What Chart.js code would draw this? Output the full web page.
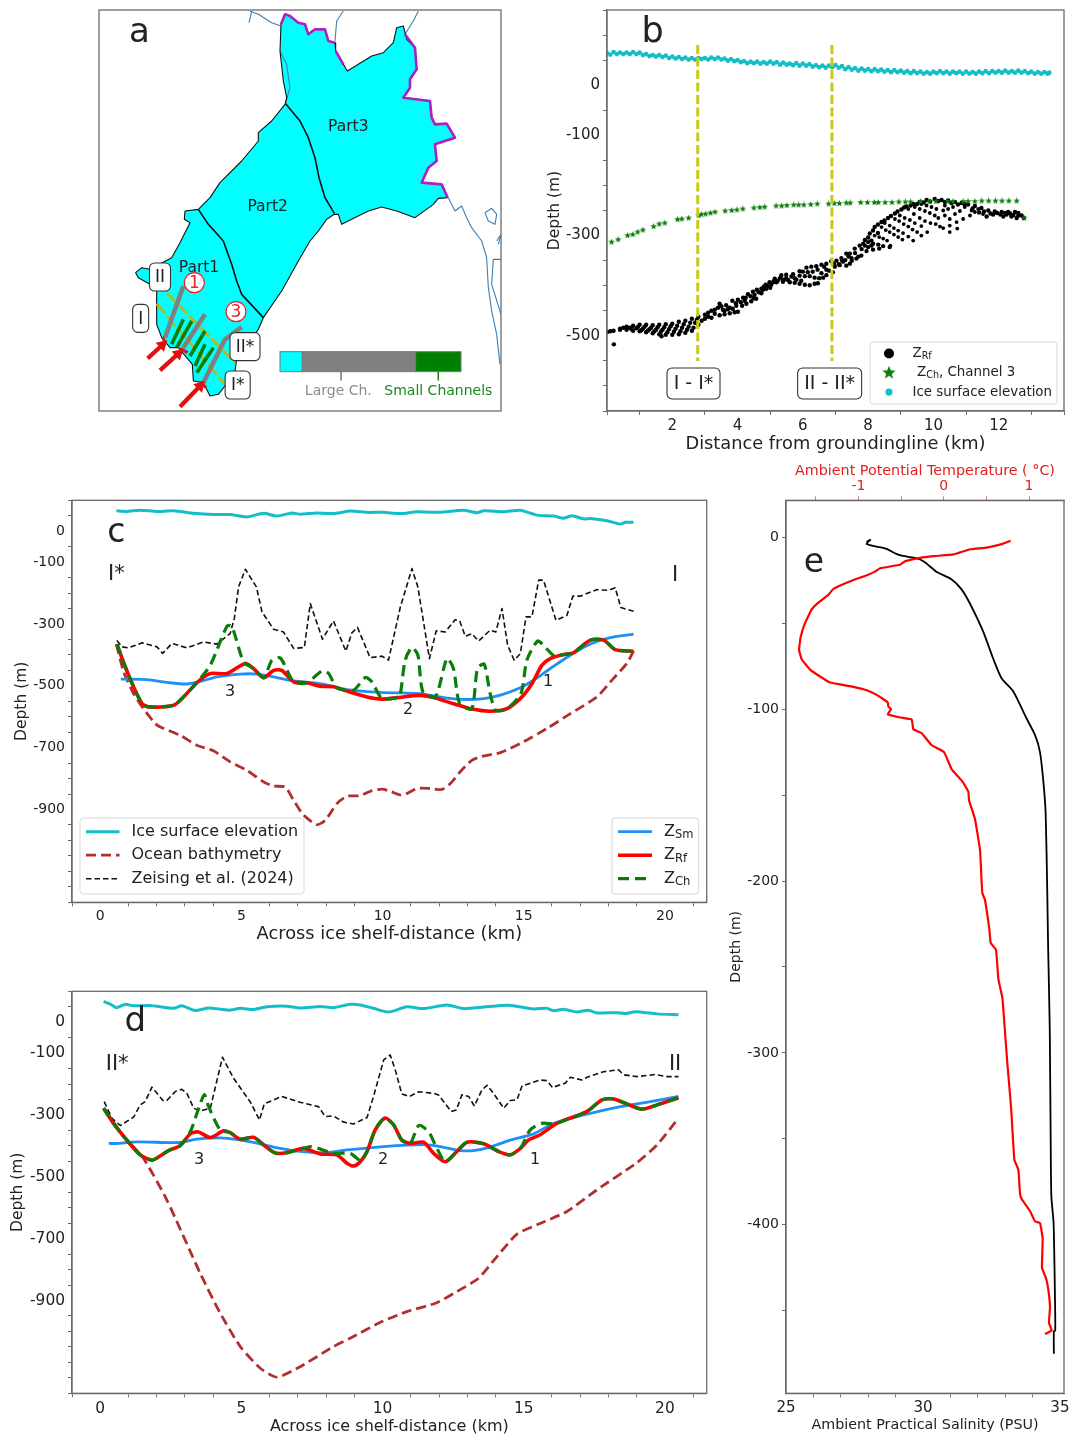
<!DOCTYPE html>
<html>
<head>
<meta charset="utf-8">
<title>Ice shelf channels</title>
<script src="https://cdn.jsdelivr.net/npm/chart.js@4/dist/chart.umd.js"></script>
<style>
  html, body { margin: 0; padding: 0; background: #fff; }
  #page { position: relative; width: 1071px; height: 1436px; overflow: hidden; }
  canvas { position: absolute; filter: blur(0.4px); }
</style>
</head>
<body>
<div id="page">
  <canvas id="panel-a" width="420" height="420" style="left:90px;top:0"></canvas>
  <canvas id="panel-b" width="531" height="460" style="left:540px;top:0"></canvas>
  <canvas id="panel-c" width="715" height="460" style="left:0;top:490px"></canvas>
  <canvas id="panel-d" width="715" height="456" style="left:0;top:980px"></canvas>
  <canvas id="panel-e" width="351" height="976" style="left:720px;top:460px"></canvas>
</div>
<script>
// ---- panel a, map outlines (map units)
const shelfOutline = [[558,70],[570,40],[585,45],[610,65],[630,70],[640,100],[660,85],[690,85],[700,120],[720,125],[722,150],[745,190],[757,210],[790,190],[830,165],[865,155],[895,125],[905,80],[925,75],[935,115],[960,140],[965,205],[945,235],[945,260],[925,290],[1005,300],[1010,350],[1020,370],[1055,368],[1080,410],[1020,430],[1025,480],[1000,500],[980,545],[1040,550],[1058,590],[1030,592],[1015,610],[960,650],[905,630],[860,618],[820,630],[770,655],[740,670],[730,640],[718,640],[695,655],[670,690],[645,720],[610,780],[560,870],[505,950],[490,985],[465,1020],[425,1075],[420,1110],[390,1155],[370,1180],[345,1185],[325,1145],[295,1140],[292,1090],[250,1040],[225,1040],[200,1010],[185,970],[185,855],[165,850],[130,830],[122,815],[140,800],[165,805],[230,770],[255,725],[285,665],[268,655],[270,630],[310,625],[345,590],[375,545],[440,480],[490,420],[490,395],[530,360],[570,310],[575,290],[565,240],[555,150],[558,70]];
const dividerPart23 = [[572,308],[615,360],[640,410],[660,470],[672,530],[690,590],[718,637]];
const dividerPart12 = [[310,625],[340,670],[385,720],[410,790],[425,840],[440,880],[505,950]];
const magentaNorth = [[558,70],[570,40],[585,45],[610,65],[630,70],[640,100],[660,85],[690,85],[700,120],[720,125]];
const magentaMid = [[722,150],[745,190]];
const magentaEast = [[930,100],[960,140],[965,205],[945,235],[945,260],[925,290],[1005,300],[1010,350],[1020,370],[1055,368],[1080,410],[1020,430],[1025,480],[1000,500],[980,545],[1040,550],[1058,590]];
const coastLines = [
  [[462,65],[470,32]],
  [[465,30],[490,40],[530,65],[558,75]],
  [[720,120],[725,60],[745,30]],
  [[930,100],[955,60],[970,30]],
  [[555,150],[575,190],[585,260],[572,305]],
  [[1060,590],[1080,630],[1100,615],[1115,650],[1130,680],[1160,720],[1175,770],[1180,860],[1190,930],[1205,1000],[1215,1090]],
  [[1218,775],[1195,775],[1190,850],[1218,940]],
  [[1170,635],[1190,622],[1205,640],[1200,670],[1180,660],[1170,635]],
  [[1205,720],[1218,700],[1210,730]]
];
const yellowTransects = [[[215,875],[420,1085]], [[185,908],[390,1150]]];
const largeChannels = [[[265,855],[210,1010]], [[330,940],[265,1040]], [[440,978],[390,1015],[325,1145]]];
const smallChannels = [[[265,955],[230,1030]], [[290,960],[245,1040]], [[330,990],[285,1065]], [[330,1030],[300,1095]], [[355,1040],[305,1115]]];
const redTips = [[[203,1008],[212,1030]], [[255,1042],[278,1055]], [[317,1142],[333,1160]]];
const redArrows = [[[158,1072],[202,1032]], [[195,1108],[250,1058]], [[255,1217],[315,1155]]];
const keyBar = [[555,622,'#00ffff'],[622,962,'#808080'],[962,1098,'#008000']];
const keyTickLarge = [[738,1112],[738,1138]];
const keyTickSmall = [[1030,1112],[1030,1138]];

// ---- panel b
const bIce = [[0,64],[.2,66],[.4,65],[.6,65],[.8,66],[1,65],[1.2,62],[1.4,60],[1.6,60],[1.8,59],[2,57],[2.2,56],[2.4,55],[2.6,54],[2.8,54],[3,54],[3.2,55],[3.4,55],[3.6,53],[3.8,52],[4,50],[4.2,48],[4.4,47],[4.6,47],[4.8,46],[5,47],[5.2,46],[5.4,45],[5.6,43],[5.8,44],[6,43],[6.2,42],[6.4,40],[6.6,39],[6.8,39],[7,40],[7.2,38],[7.4,36],[7.6,34],[7.8,33],[8,32],[8.2,32],[8.4,31],[8.6,30],[8.8,30],[9,29],[9.2,28],[9.4,28],[9.6,27],[9.8,26],[10,27],[10.2,28],[10.4,27],[10.6,27],[10.8,27],[11,27],[11.2,26],[11.4,27],[11.6,28],[11.8,28],[12,28],[12.2,29],[12.4,28],[12.6,29],[12.8,28],[13,27],[13.2,26],[13.4,26],[13.55,25]];
const bIceLower = [[.1,61],[.3,62],[.5,62],[.7,62],[.9,62],[1.1,60],[1.3,58],[1.5,57],[1.7,56],[1.9,54],[2.1,53],[2.3,52],[2.5,51],[2.7,51],[2.9,52],[3.1,51],[3.3,52],[3.5,51],[3.7,49],[3.9,48],[4.1,46],[4.3,44],[4.5,44],[4.7,43],[4.9,43],[5.1,43],[5.3,41],[5.5,41],[5.7,40],[5.9,39],[6.1,39],[6.3,37],[6.5,36],[6.7,35],[6.9,36],[7.1,35],[7.3,32],[7.5,31],[7.7,29],[7.9,29],[8.1,28],[8.3,28],[8.5,27],[8.7,26],[8.9,26],[9.1,25],[9.3,24],[9.5,24],[9.7,23],[9.9,23],[10.1,24],[10.3,24],[10.5,23],[10.7,24],[10.9,23],[11.1,23],[11.3,23],[11.5,24],[11.7,24],[11.9,25],[12.1,25],[12.3,25],[12.5,25],[12.7,25],[12.9,24],[13.1,23],[13.3,23],[13.5,23]];
const bChannel3 = [[.14,-313],[.34,-308],[.63,-300],[.79,-298],[.94,-293],[1.1,-289],[1.43,-282],[1.6,-277],[1.77,-275],[2.16,-268],[2.29,-267],[2.5,-265],[2.81,-260],[2.89,-258],[3.02,-257],[3.17,-255],[3.31,-253],[3.62,-251],[3.82,-250],[3.98,-249],[4.16,-247],[4.5,-245],[4.68,-244],[4.83,-243],[5.18,-241],[5.35,-241],[5.51,-240],[5.72,-239],[5.87,-239],[6.03,-239],[6.24,-238],[6.44,-237],[6.79,-237],[6.96,-236],[7.12,-236],[7.33,-235],[7.45,-235],[7.77,-234],[7.98,-234],[8.19,-234],[8.31,-234],[8.52,-234],[8.73,-234],[8.94,-233],[9.14,-233],[9.3,-233],[9.61,-232],[9.87,-232],[10.08,-232],[10.44,-232],[10.6,-232],[10.91,-232],[11.06,-232],[11.27,-232],[11.48,-231],[11.69,-231],[11.9,-231],[12.1,-231],[12.31,-231],[12.55,-231],[12.78,-265]];
const bRfUpper = [[0,-493],[.1,-491],[.21,-517],[.2,-490],[.4,-486],[.6,-482],[.8,-480],[1,-478],[1.2,-478],[1.4,-479],[1.6,-478],[1.8,-477],[2,-476],[2.2,-472],[2.4,-470],[2.6,-466],[2.8,-462],[3,-458],[3.2,-450],[3.45,-436],[3.65,-439],[3.84,-430],[4.01,-428],[4.17,-424],[4.32,-417],[4.47,-412],[4.59,-408],[4.73,-406],[4.86,-398],[4.98,-393],[5.14,-386],[5.34,-379],[5.49,-378],[5.7,-377],[5.9,-371],[6.11,-364],[6.26,-362],[6.41,-361],[6.57,-358],[6.72,-356],[6.87,-351],[7.03,-350],[7.18,-345],[7.33,-336],[7.44,-336],[7.59,-326],[7.74,-320],[7.9,-309],[8.05,-296],[8.2,-283],[8.41,-273],[8.61,-265],[8.82,-256],[9.02,-248],[9.17,-242],[9.38,-237],[9.58,-233],[9.79,-229],[10.04,-227],[10.25,-229],[10.45,-230],[10.66,-233],[10.86,-235],[11.06,-238],[11.27,-241],[11.47,-245],[11.68,-250],[11.88,-252],[12.09,-253],[12.29,-253],[12.5,-253],[12.6,-255],[12.7,-260],[12.77,-265]];
const bRfMid = [[.7,-484],[.9,-485],[1.1,-486],[1.3,-487],[1.5,-488],[1.7,-488],[1.9,-487],[2.1,-486],[2.3,-484],[2.5,-482],[2.7,-474],[3.1,-462],[3.3,-456],[3.55,-448],[3.76,-444],[3.96,-440],[4.22,-430],[4.52,-418],[4.78,-408],[5.09,-393],[5.29,-386],[5.49,-385],[5.75,-385],[5.9,-380],[6.06,-381],[6.21,-381],[6.36,-384],[6.57,-375],[6.72,-368],[6.98,-362],[7.23,-352],[7.49,-345]];
const bRfLower = [[.4,-488],[.6,-488],[.8,-490],[1,-491],[1.2,-493],[1.4,-495],[1.6,-497],[1.67,-501],[1.8,-498],[2,-498],[2.2,-497],[2.4,-494],[2.6,-490],[2.8,-478],[3.2,-464],[3.45,-459],[3.6,-457],[3.76,-455],[3.91,-453],[4.01,-452],[4.14,-440],[4.27,-436],[4.42,-431],[4.57,-426],[4.73,-415],[4.88,-406],[5.03,-398],[5.19,-393],[5.39,-392],[5.6,-393],[5.75,-394],[5.9,-396],[6.06,-398],[6.21,-399],[6.36,-396],[6.46,-395],[6.62,-384],[6.72,-379],[6.92,-373],[7.13,-359],[7.33,-360],[7.44,-356],[7.64,-346],[7.79,-340],[7.95,-331],[8.15,-328],[8.34,-326],[8,-323],[7.85,-316],[8.1,-320],[8,-313],[8.15,-316],[8.31,-318],[8.46,-321],[8.66,-323],[11.63,-262],[11.83,-258],[12.14,-262],[12.24,-258],[12.39,-262],[12.55,-265]];
const bRfFill = [[.5,-484],[.75,-487],[.95,-482],[1.05,-489],[1.15,-482],[1.25,-490],[1.35,-484],[1.45,-491],[1.55,-483],[1.65,-492],[1.75,-483],[1.85,-493],[1.95,-481],[2.05,-492],[2.15,-480],[2.25,-491],[2.35,-477],[2.45,-488],[2.55,-474],[2.65,-484],[2.75,-468],[2.9,-470],[3,-466],[3.1,-454],[3.3,-448],[3.4,-444],[3.5,-441],[3.6,-450],[3.7,-447],[3.85,-446],[3.95,-435],[4.1,-433],[4.25,-424],[4.4,-421],[4.5,-425],[4.65,-413],[4.8,-402],[4.9,-400],[5,-404],[5.12,-390],[5.22,-391],[5.32,-384],[5.42,-388],[5.55,-389],[5.65,-382],[5.8,-388],[5.95,-390],[6,-372],[6.15,-373],[6.3,-372],[6.45,-368],[6.5,-385],[6.65,-362],[6.8,-370],[6.95,-356],[7.1,-357],[7.2,-350],[7.3,-349],[7.4,-342],[7.5,-350],[7.6,-335],[7.7,-342],[7.8,-327],[7.9,-320],[8,-304],[8.1,-310],[8.15,-290],[8.3,-295],[8.3,-278],[8.5,-270],[8.7,-261],[8.9,-252],[9.1,-244],[9.3,-240],[9.5,-237],[9.7,-234],[9.9,-232],[10.15,-231],[10.35,-233],[10.55,-235],[10.75,-238],[10.95,-237],[11.2,-246],[11.4,-254],[11.55,-252],[11.75,-256],[11.95,-255],[12.05,-258],[12.2,-255],[12.35,-256],[12.45,-259],[12.6,-260]];
const bRfNet = [[8.2,-300],[8.34,-303],[8.46,-306],[8.58,-310],[8.68,-320],[8.41,-283],[8.54,-289],[8.66,-293],[8.79,-298],[8.92,-303],[9.05,-308],[8.51,-275],[8.66,-280],[8.79,-285],[8.92,-290],[9.07,-295],[9.23,-302],[9.38,-310],[8.82,-267],[8.95,-271],[9.09,-277],[9.23,-282],[9.36,-288],[9.5,-293],[9.63,-300],[8.97,-260],[9.12,-265],[9.28,-269],[9.43,-275],[9.63,-281],[9.81,-293],[9.23,-247],[9.4,-257],[9.58,-265],[9.74,-271],[9.91,-275],[10.07,-277],[10.2,-282],[9.43,-243],[9.58,-247],[9.74,-251],[9.89,-255],[10.04,-260],[10.15,-265],[9.63,-237],[9.79,-240],[9.94,-243],[10.09,-247],[10.35,-240],[10.3,-250],[10.45,-247],[10.6,-243],[10.66,-257],[10.5,-267],[10.35,-260],[10.81,-251],[10.3,-285],[10.5,-280],[10.71,-273],[10.91,-267],[11.12,-260],[11.27,-253],[10.5,-293],[10.73,-286],[10.96,-243],[11.17,-250],[11.37,-247],[11.52,-257]];
const bTransectI = [[2.78,80],[2.78,-550]];
const bTransectII = [[6.89,80],[6.89,-550]];

// ---- panel c, transect I - I*
const cIce = [[.57,66],[.94,64],[1.42,68],[2,64],[2.6,66],[3.31,58],[4.01,54],[4.6,54],[5.19,46],[5.79,58],[6.26,49],[6.79,59],[7.08,55],[7.67,59],[8.26,57],[8.85,65],[9.45,61],[10.04,61],[10.63,57],[11.22,63],[11.92,61],[12.87,68],[13.34,60],[13.58,66],[14.29,63],[14.88,68],[15.47,52],[16.06,49],[16.41,42],[16.71,50],[17.12,40],[17.36,41],[17.95,34],[18.42,23],[18.6,29],[18.89,29]];
const cZeising = [[.59,-353],[.77,-374],[1,-377],[1.48,-361],[2.01,-374],[2.21,-395],[2.54,-363],[3.07,-377],[3.66,-358],[4.13,-365],[4.6,-331],[4.75,-282],[4.9,-180],[5.14,-123],[5.53,-180],[5.73,-261],[6.14,-317],[6.49,-326],[6.85,-379],[7.23,-376],[7.44,-234],[7.87,-349],[8.26,-290],[8.7,-388],[8.91,-329],[9.11,-311],[9.56,-409],[9.98,-404],[10.21,-417],[10.63,-245],[11.04,-121],[11.25,-180],[11.66,-412],[11.9,-322],[12.22,-326],[12.57,-286],[12.73,-290],[12.93,-340],[13.16,-331],[13.4,-355],[13.81,-320],[14.01,-326],[14.23,-250],[14.43,-369],[14.66,-417],[14.88,-396],[15.08,-277],[15.29,-277],[15.53,-158],[15.7,-158],[16.14,-288],[16.53,-272],[16.74,-210],[17,-210],[17.59,-189],[18,-191],[18.24,-183],[18.44,-247],[18.89,-259]];
const cBathy = [[.57,-365],[.83,-455],[1.18,-525],[1.53,-574],[1.95,-622],[2.13,-633],[2.83,-660],[3.42,-692],[4.01,-710],[4.6,-746],[5.19,-773],[5.79,-811],[6.14,-824],[6.55,-827],[6.85,-870],[7.2,-918],[7.67,-949],[7.97,-935],[8.38,-881],[8.74,-857],[9.21,-855],[9.56,-841],[9.98,-834],[10.27,-841],[10.63,-853],[10.8,-851],[11.22,-832],[11.69,-832],[12.1,-835],[12.4,-816],[12.75,-778],[13.16,-741],[13.52,-728],[14.17,-716],[14.99,-681],[15.82,-638],[16.65,-590],[17.59,-536],[18.18,-476],[18.65,-428],[18.89,-387]];
const cSm = [[.73,-478],[1.65,-480],[2.36,-489],[3.07,-494],[3.54,-486],[4.13,-471],[4.96,-462],[5.55,-462],[6.14,-471],[6.85,-484],[7.79,-493],[8.74,-512],[9.92,-521],[10.63,-523],[11.33,-525],[12.16,-538],[12.87,-544],[13.58,-541],[14.17,-530],[14.88,-506],[15.35,-482],[15.94,-444],[16.65,-401],[17.36,-365],[18.06,-344],[18.89,-333]];
const cRf = [[.59,-365],[.89,-439],[1.18,-503],[1.48,-557],[1.71,-568],[2.6,-563],[2.95,-536],[3.42,-490],[3.9,-460],[4.49,-460],[5.14,-428],[5.43,-444],[5.79,-474],[6.14,-450],[6.43,-450],[6.85,-487],[7.32,-490],[7.79,-501],[8.26,-503],[8.74,-517],[9.45,-536],[9.98,-543],[10.51,-538],[11.33,-531],[11.81,-538],[12.51,-558],[13.22,-576],[13.81,-582],[14.4,-574],[14.88,-541],[15.29,-493],[15.64,-434],[15.94,-412],[16.41,-399],[16.76,-393],[17.36,-352],[17.83,-352],[18.24,-383],[18.89,-388]];
const cCh = [[.59,-365],[.89,-439],[1.18,-503],[1.48,-557],[1.71,-568],[2.6,-563],[2.95,-536],[3.42,-490],[3.9,-433],[4.49,-307],[4.66,-307],[5.08,-423],[5.43,-444],[5.79,-474],[6.08,-417],[6.38,-410],[6.85,-487],[7.32,-490],[7.85,-452],[8.09,-460],[8.38,-506],[8.97,-514],[9.39,-473],[9.62,-487],[9.98,-541],[10.51,-538],[10.63,-525],[10.8,-417],[11.04,-376],[11.25,-401],[11.43,-520],[11.87,-536],[12.28,-412],[12.51,-444],[12.73,-557],[13.16,-574],[13.36,-444],[13.6,-430],[13.81,-525],[14.01,-579],[14.4,-574],[14.9,-525],[15.11,-417],[15.49,-355],[15.7,-369],[16.08,-403],[16.41,-399],[16.76,-393],[17.36,-352],[17.83,-352],[18.24,-383],[18.89,-388]];

// ---- panel d, transect II - II*
const dIce = [[.12,67],[.35,59],[.57,47],[.89,58],[1.18,53],[1.77,54],[2.6,45],[2.89,53],[3.36,38],[3.84,46],[4.55,39],[4.96,45],[5.43,41],[5.9,50],[6.61,52],[7.08,46],[7.79,51],[8.26,47],[8.85,58],[9.21,56],[9.68,45],[10.21,33],[10.86,50],[11.45,44],[12.28,56],[12.87,44],[13.58,49],[14.46,55],[15.35,43],[15.82,45],[16.06,37],[16.41,42],[16.88,33],[17.29,39],[17.59,30],[18.3,31],[18.6,28],[18.95,34],[19.72,27],[20.48,24]];
const dZeising = [[.14,-257],[.41,-310],[.71,-334],[1.18,-307],[1.42,-267],[1.59,-257],[1.83,-210],[2.22,-253],[2.36,-253],[2.66,-224],[2.89,-217],[3.07,-230],[3.31,-278],[3.54,-287],[3.9,-278],[4.33,-113],[4.72,-181],[5.31,-257],[5.64,-316],[5.81,-264],[6.43,-240],[7.08,-259],[7.73,-273],[7.97,-305],[8.26,-303],[8.62,-323],[8.97,-329],[9.45,-308],[9.68,-240],[10.04,-122],[10.27,-106],[10.45,-154],[10.68,-232],[10.96,-240],[11.28,-225],[11.81,-230],[11.98,-235],[12.43,-289],[12.61,-284],[12.81,-235],[13.05,-240],[13.25,-271],[13.52,-219],[13.7,-204],[13.93,-230],[14.29,-278],[14.52,-253],[14.76,-251],[14.94,-206],[15.58,-187],[15.82,-189],[16.02,-211],[16.47,-197],[16.65,-178],[17.06,-187],[17.24,-178],[17.83,-160],[18.36,-154],[18.54,-170],[19.01,-176],[19.66,-169],[20.07,-176],[20.48,-176]];
const dBathy = [[.14,-278],[.83,-370],[1.53,-440],[2.36,-575],[3.54,-812],[4.25,-941],[4.96,-1049],[5.67,-1119],[6.26,-1148],[7.08,-1114],[8.26,-1049],[8.85,-1022],[9.98,-968],[10.86,-936],[11.92,-907],[12.63,-871],[13.4,-828],[14.05,-758],[14.76,-685],[15.47,-655],[16.53,-612],[17.59,-542],[19.01,-454],[19.72,-397],[20.43,-316]];
const dSm = [[.3,-392],[.65,-392],[1.3,-387],[2.83,-389],[3.42,-378],[4.25,-374],[4.96,-381],[5.55,-391],[6.14,-404],[7.08,-418],[7.91,-422],[8.74,-413],[10.04,-402],[11.45,-396],[12.04,-402],[12.75,-415],[13.22,-415],[13.81,-404],[14.52,-381],[15.35,-361],[16.06,-327],[17.12,-300],[18.3,-275],[19.48,-257],[20.48,-240]];
const dRf = [[.12,-278],[.47,-327],[.94,-381],[1.42,-429],[1.83,-446],[2.13,-432],[2.42,-415],[2.83,-399],[3.19,-361],[3.48,-355],[3.9,-373],[4.37,-351],[4.6,-357],[4.96,-378],[5.43,-372],[5.79,-397],[6.2,-423],[6.61,-422],[7.2,-408],[7.79,-426],[8.38,-429],[8.74,-456],[8.97,-465],[9.21,-451],[9.45,-418],[9.74,-348],[10.09,-310],[10.39,-332],[10.68,-381],[10.98,-392],[11.45,-388],[11.81,-424],[12.22,-451],[12.63,-418],[12.99,-388],[13.58,-393],[14.11,-418],[14.52,-429],[14.88,-408],[15.17,-381],[15.58,-364],[16.17,-327],[17.23,-289],[17.77,-251],[18.18,-248],[18.65,-264],[19.18,-281],[19.83,-264],[20.48,-244]];
const dCh = [[.12,-278],[.47,-327],[.94,-381],[1.42,-429],[1.83,-446],[2.13,-432],[2.42,-415],[2.83,-399],[3.19,-354],[3.68,-235],[3.84,-273],[4.25,-348],[4.6,-357],[4.96,-378],[5.43,-372],[5.79,-397],[6.2,-423],[6.61,-422],[7.2,-408],[7.5,-402],[8.26,-424],[8.85,-424],[9.15,-445],[9.21,-451],[9.45,-418],[9.74,-348],[10.09,-310],[10.39,-332],[10.68,-381],[10.98,-392],[11.28,-334],[11.63,-354],[11.87,-397],[12.22,-451],[12.63,-418],[12.99,-388],[13.58,-393],[14.11,-418],[14.52,-429],[14.88,-408],[15.23,-348],[15.64,-327],[16.06,-329],[16.17,-327],[17.23,-289],[17.77,-251],[18.18,-248],[18.65,-264],[19.18,-281],[19.83,-264],[20.48,-244]];

// ---- panel e, ambient profile [value, depth]
const eSalinity = [[27.94,-2.7],[28.08,-1.5],[27.94,-3.9],[28.3,-5.4],[28.67,-6.8],[29.03,-9.7],[29.27,-10.9],[29.76,-12.2],[30.07,-14.5],[30.49,-20],[31.04,-24.4],[31.41,-30.3],[31.71,-38.4],[32.2,-54.9],[32.56,-70.4],[32.87,-82],[33.3,-89.7],[33.78,-105.3],[34.09,-115],[34.27,-124.7],[34.39,-141],[34.48,-160.6],[34.54,-207.2],[34.57,-238],[34.63,-286],[34.67,-364],[34.69,-384],[34.77,-399],[34.82,-442],[34.83,-461.5],[34.78,-462],[34.78,-475]];
const eTemperature = [[.785,-2],[.68,-4],[.504,-6],[.31,-7],[.113,-10],[-.121,-11],[-.277,-12],[-.453,-14],[-.512,-16],[-.746,-18],[-.805,-20],[-.922,-22.5],[-1.066,-25],[-1.293,-30],[-1.352,-33.5],[-1.469,-38],[-1.547,-42],[-1.625,-50],[-1.676,-58],[-1.695,-65.5],[-1.664,-71],[-1.566,-77],[-1.449,-81],[-1.332,-84.5],[-1.059,-87],[-.902,-89],[-.785,-91.7],[-.656,-96],[-.648,-98.5],[-.617,-100],[-.656,-103],[-.492,-105],[-.375,-106],[-.355,-111.7],[-.258,-114],[-.141,-121],[.004,-125],[.094,-135],[.219,-142],[.289,-148],[.297,-153],[.367,-164],[.426,-182],[.445,-201],[.453,-207],[.484,-211],[.535,-228],[.551,-236],[.613,-240],[.641,-257],[.688,-268],[.719,-288],[.746,-306],[.789,-331],[.828,-362],[.875,-368],[.895,-382],[.914,-385],[1.012,-392],[1.07,-398],[1.129,-399],[1.16,-408],[1.152,-425],[1.199,-431],[1.227,-438],[1.246,-448],[1.234,-457],[1.266,-461.5],[1.188,-463.5]];

// ---- tick labels
const bXLabels = [2,4,6,8,10,12];
const bYLabels = [0,-100,-300,-500];
const transectXLabels = [0,5,10,15,20];
const transectYLabels = [0,-100,-300,-500,-700,-900];
const eYLabels = [0,-100,-200,-300,-400];
const eSalinityLabels = [25,30,35];
const eTemperatureLabels = [-1,0,1];

// ---- colours
const iceColor = '#14bec6';
const rfColor = '#ff0000';
const chColor = '#0b7d0b';
const smColor = '#1e90f5';
const bathyColor = '#b03030';
const axisColor = '#6b6b6b';
const textColor = '#222222';
const FONT = '"DejaVu Sans"';

Chart.defaults.font.family = FONT;
Chart.defaults.color = textColor;

// small filled star used as the point style of panel b
const starImage = (size, color) => {
  const c = document.createElement('canvas');
  c.width = c.height = size;
  const g = c.getContext('2d');
  const R = size / 2, r = R * 0.42;
  g.fillStyle = color;
  g.beginPath();
  for (let i = 0; i < 10; i++) {
    const rad = i % 2 ? r : R;
    const ang = -Math.PI / 2 + i * Math.PI / 5;
    g.lineTo(R + rad * Math.cos(ang), R + rad * Math.sin(ang));
  }
  g.closePath();
  g.fill();
  return c;
};

const roundBox = (ctx, x, y, w, h, r) => {
  ctx.beginPath();
  ctx.roundRect(x, y, w, h, r);
  ctx.fillStyle = '#fff';
  ctx.fill();
};

// draws frame, map fills, annotation texts and the two-part legends
const panelDecor = {
  id: 'panelDecor',
  beforeDatasetsDraw(chart, args, opts) {
    const {ctx, scales} = chart;
    if (opts.polygon) {
      ctx.save();
      ctx.beginPath();
      opts.polygon.forEach(([x, y]) => ctx.lineTo(scales.x.getPixelForValue(x), scales.y.getPixelForValue(y)));
      ctx.closePath();
      ctx.fillStyle = '#00ffff';
      ctx.fill();
      ctx.restore();
    }
  },
  afterDatasetsDraw(chart, args, opts) {
    const {ctx, chartArea: a, scales} = chart;
    ctx.save();
    ctx.textAlign = 'center';
    ctx.textBaseline = 'middle';

    // key bar of the map
    (opts.bars || []).forEach(([x0, x1, color]) => {
      const px0 = scales.x.getPixelForValue(x0), px1 = scales.x.getPixelForValue(x1);
      const py0 = scales.y.getPixelForValue(opts.barTop), py1 = scales.y.getPixelForValue(opts.barBottom);
      ctx.fillStyle = color;
      ctx.fillRect(px0, py0, px1 - px0, py1 - py0);
      ctx.strokeStyle = '#777';
      ctx.lineWidth = 1;
      ctx.strokeRect(px0, py0, px1 - px0, py1 - py0);
    });

    (opts.boxes || []).forEach(b => {
      const px = scales.x.getPixelForValue(b.x), py = scales.y.getPixelForValue(b.y);
      roundBox(ctx, px - b.w / 2, py - b.h / 2, b.w, b.h, 5);
      ctx.strokeStyle = '#333';
      ctx.lineWidth = 1.1;
      ctx.stroke();
      ctx.fillStyle = textColor;
      ctx.font = `${b.size}px ${FONT}`;
      ctx.fillText(b.text, px, py + 1);
    });

    (opts.circles || []).forEach(b => {
      const px = scales.x.getPixelForValue(b.x), py = scales.y.getPixelForValue(b.y);
      ctx.beginPath();
      ctx.arc(px, py, 10, 0, Math.PI * 2);
      ctx.fillStyle = '#fff';
      ctx.fill();
      ctx.strokeStyle = '#e22';
      ctx.lineWidth = 1.2;
      ctx.stroke();
      ctx.fillStyle = '#e22';
      ctx.font = `17px ${FONT}`;
      ctx.fillText(b.text, px, py + 1);
    });

    (opts.texts || []).forEach(t => {
      ctx.fillStyle = t.color || textColor;
      ctx.font = `${t.size}px ${FONT}`;
      ctx.fillText(t.text, scales.x.getPixelForValue(t.x), scales.y.getPixelForValue(t.y) + 2);
    });

    (opts.legends || []).forEach(l => {
      const ox = chart.canvas.offsetLeft, oy = chart.canvas.offsetTop;
      roundBox(ctx, l.x - ox, l.y - oy, l.w, l.h, 3);
      ctx.strokeStyle = '#d8d8d8';
      ctx.lineWidth = 1;
      ctx.stroke();
      l.items.forEach((it, i) => {
        const y = l.y - oy + l.first + i * l.step;
        if (it.type === 'line') {
          ctx.beginPath();
          ctx.setLineDash(it.dash || []);
          ctx.moveTo(l.swatch[0] - ox, y);
          ctx.lineTo(l.swatch[1] - ox, y);
          ctx.strokeStyle = it.color;
          ctx.lineWidth = it.width;
          ctx.stroke();
          ctx.setLineDash([]);
        } else if (it.type === 'dot') {
          ctx.beginPath();
          ctx.arc(l.swatch[0] - ox, y, it.r, 0, Math.PI * 2);
          ctx.fillStyle = it.color;
          ctx.fill();
        } else {
          ctx.drawImage(it.image, l.swatch[0] - ox - it.image.width / 2, y - it.image.height / 2);
        }
        let x = (it.textX || l.textX) - ox;
        ctx.textAlign = 'left';
        ctx.fillStyle = textColor;
        ctx.font = `${l.size}px ${FONT}`;
        ctx.fillText(it.label, x, y);
        x += ctx.measureText(it.label).width;
        if (it.sub) {
          ctx.font = `${l.size * 0.72}px ${FONT}`;
          ctx.fillText(it.sub, x, y + l.size * 0.22);
          x += ctx.measureText(it.sub).width;
          ctx.font = `${l.size}px ${FONT}`;
        }
        if (it.tail) ctx.fillText(it.tail, x, y);
        ctx.textAlign = 'center';
      });
    });

    // frame
    ctx.strokeStyle = axisColor;
    ctx.lineWidth = 1.3;
    ctx.strokeRect(a.left, a.top, a.right - a.left, a.bottom - a.top);
    ctx.restore();
  }
};
Chart.register(panelDecor);

// fixes the plot rectangle at page pixels, whatever the ticks measure
const fixedX = (h) => s => { s.height = h; s.paddingLeft = s.paddingRight = s.paddingTop = s.paddingBottom = 0; };
const fixedY = (w) => s => { s.width = w; s.paddingLeft = s.paddingRight = s.paddingTop = s.paddingBottom = 0; };

const axisX = (min, max, step, labels, size, title, titleSize, titlePad, h, color) => ({
  type: 'linear', min, max, position: 'bottom',
  afterFit: fixedX(h),
  border: {color: axisColor, width: 1.3},
  grid: {drawOnChartArea: false, tickLength: 4, tickWidth: 1,
    tickColor: c => labels.includes(c.tick.value) ? 'rgba(0,0,0,0)' : axisColor},
  ticks: {stepSize: step, includeBounds: false, autoSkip: false, maxRotation: 0, padding: 2,
    color: color || textColor, font: {size},
    callback: v => labels.includes(v) ? String(v) : ''},
  title: {display: true, text: title, color: color || textColor, font: {size: titleSize}, padding: {top: 0, bottom: titlePad}}
});

const axisY = (min, max, labels, size, titleSize, titlePad, w, hideMajor) => ({
  type: 'linear', min, max,
  afterFit: fixedY(w),
  border: {color: axisColor, width: 1.3},
  grid: {drawOnChartArea: false, tickLength: 4, tickWidth: 1,
    tickColor: c => hideMajor && labels.includes(c.tick.value) ? 'rgba(0,0,0,0)' : axisColor},
  ticks: {stepSize: 50, includeBounds: false, autoSkip: false, padding: 3, font: {size},
    callback: v => labels.includes(v) ? String(v) : ''},
  title: {display: true, text: 'Depth (m)', color: textColor, font: {size: titleSize}, padding: {top: titlePad, bottom: 0}}
});

const line = (data, color, width, extra) => Object.assign(
  {data, showLine: true, borderColor: color, borderWidth: width, pointRadius: 0, fill: false, borderCapStyle: 'butt', borderJoinStyle: 'round'},
  extra);

const dots = (data, color, radius) => ({data, showLine: false, backgroundColor: color, borderWidth: 0, pointRadius: radius});

const baseOptions = (padding, scales, decor) => ({
  responsive: false,
  animation: false,
  devicePixelRatio: 1,
  events: [],
  layout: {padding},
  scales,
  plugins: {legend: {display: false}, tooltip: {enabled: false}, panelDecor: decor}
});

// ---- panel a
const mapDatasets = [
  ...redArrows.map(d => line(d, '#e01010', 4.2, {
    pointRadius: [0, 7], pointStyle: 'triangle', pointBackgroundColor: '#e01010', pointBorderWidth: 0,
    pointRotation: Math.atan2(d[1][0] - d[0][0], d[0][1] - d[1][1]) * 180 / Math.PI})),
  ...redTips.map(d => line(d, '#d81818', 3)),
  ...smallChannels.map(d => line(d, '#0a7d0a', 3.6)),
  ...largeChannels.map(d => line(d, '#808080', 4.6)),
  ...yellowTransects.map(d => line(d, '#b8b820', 2.8, {borderDash: [13, 3]})),
  line(keyTickLarge, '#8a8a8a', 1),
  line(keyTickSmall, '#008000', 1),
  line(magentaNorth, '#b020c0', 2.6),
  line(magentaMid, '#b020c0', 2.6),
  line(magentaEast, '#b020c0', 2.6),
  line(dividerPart23, '#111', 1.6),
  line(dividerPart12, '#111', 1.6),
  line(shelfOutline, '#111', 1.1),
  ...coastLines.map(d => line(d, '#3a80b8', 1.1))
];

new Chart(document.getElementById('panel-a'), {
  type: 'scatter',
  data: {datasets: mapDatasets},
  options: baseOptions({left: 9, right: 9, top: 10, bottom: 9}, {
    x: {display: false, min: 12, max: 1218},
    y: {display: false, min: 27, max: 1230, reverse: true}
  }, {
    polygon: shelfOutline,
    bars: keyBar, barTop: 1052, barBottom: 1112,
    boxes: [
      {x: 195, y: 828, w: 21, h: 28, text: 'II', size: 17},
      {x: 137, y: 952, w: 16, h: 28, text: 'I', size: 17},
      {x: 450, y: 1037, w: 30, h: 28, text: 'II*', size: 17},
      {x: 428, y: 1152, w: 25, h: 28, text: 'I*', size: 17}
    ],
    circles: [{x: 298, y: 845, text: '1'}, {x: 423, y: 932, text: '3'}],
    texts: [
      {x: 133, y: 90, text: 'a', size: 34},
      {x: 760, y: 372, text: 'Part3', size: 15.5},
      {x: 518, y: 613, text: 'Part2', size: 15.5},
      {x: 312, y: 795, text: 'Part1', size: 15.5},
      {x: 730, y: 1165, text: 'Large Ch.', size: 14, color: '#8c8c8c'},
      {x: 1030, y: 1165, text: 'Small Channels', size: 14, color: '#1a8a1a'}
    ]
  })
});

// ---- panel b
const starSmall = starImage(7, '#0b7d0b');
const starLegend = starImage(14, '#0b7d0b');

new Chart(document.getElementById('panel-b'), {
  type: 'scatter',
  data: {datasets: [
    line(bTransectI, '#c8c818', 3, {borderDash: [9, 3.5]}),
    line(bTransectII, '#c8c818', 3, {borderDash: [9, 3.5]}),
    {data: bChannel3, showLine: false, pointStyle: starSmall, pointRadius: 3.5},
    dots(bRfNet, '#000', 1.9),
    dots(bRfUpper, '#000', 2.2),
    dots(bRfMid, '#000', 2.2),
    dots(bRfLower, '#000', 2.2),
    dots(bRfFill, '#000', 2.2),
    dots(bIce, '#14bec6', 2.3),
    dots(bIceLower, '#14bec6', 2.3)
  ]},
  options: baseOptions({left: 0, right: 7, top: 10, bottom: 0}, {
    x: axisX(0, 14, 1, bXLabels, 15, 'Distance from groundingline (km)', 17.8, 5, 49),
    y: axisY(-650, 150, bYLabels, 15, 15.5, 6, 67, true)
  }, {
    boxes: [
      {x: 2.65, y: -595, w: 53, h: 31, text: 'I - I*', size: 19},
      {x: 6.82, y: -595, w: 64, h: 31, text: 'II - II*', size: 19}
    ],
    texts: [{x: 1.4, y: 108, text: 'b', size: 35}],
    legends: [{
      x: 870, y: 342, w: 187, h: 62, first: 11.5, step: 19.3, size: 13.4,
      swatch: [889, 889], textX: 912.5,
      items: [
        {type: 'dot', color: '#000', r: 5, label: 'Z', sub: 'Rf'},
        {type: 'star', image: starLegend, label: 'Z', sub: 'Ch', tail: ', Channel 3', textX: 917},
        {type: 'dot', color: '#14bec6', r: 3.6, label: 'Ice surface elevation'}
      ]
    }]
  })
});

// ---- panels c and d
const transectDatasets = (ch, rf, sm, zeising, bathy, ice) => [
  line(ch, chColor, 3.2, {borderDash: [11, 6], tension: 0.25}),
  line(rf, rfColor, 3.6, {tension: 0.25}),
  line(sm, smColor, 2.8, {tension: 0.3}),
  line(zeising, '#111', 1.6, {borderDash: [5.5, 3]}),
  line(bathy, bathyColor, 2.8, {borderDash: [10, 5], tension: 0.2}),
  line(ice, iceColor, 3, {tension: 0.2})
];

new Chart(document.getElementById('panel-c'), {
  type: 'scatter',
  data: {datasets: transectDatasets(cCh, cRf, cSm, cZeising, cBathy, cIce)},
  options: baseOptions({left: 0, right: 8.3, top: 10.3, bottom: 0}, {
    x: axisX(-1, 21.48, 1, transectXLabels, 14, 'Across ice shelf-distance (km)', 17.8, 5, 47.7),
    y: axisY(-1200, 100, transectYLabels, 14, 15.5, 13, 72, true)
  }, {
    texts: [
      {x: .57, y: 0, text: 'c', size: 33},
      {x: .57, y: -133, text: 'I*', size: 21},
      {x: 20.36, y: -136, text: 'I', size: 21},
      {x: 4.6, y: -514, text: '3', size: 16},
      {x: 10.9, y: -572, text: '2', size: 16},
      {x: 15.86, y: -482, text: '1', size: 16}
    ],
    legends: [{
      x: 80, y: 818, w: 224, h: 76, first: 13.7, step: 23.5, size: 16,
      swatch: [86, 119.5], textX: 131.5,
      items: [
        {type: 'line', color: iceColor, width: 3, label: 'Ice surface elevation'},
        {type: 'line', color: bathyColor, width: 2.8, dash: [10, 5], label: 'Ocean bathymetry'},
        {type: 'line', color: '#111', width: 1.6, dash: [5.5, 3], label: 'Zeising et al. (2024)'}
      ]
    }, {
      x: 612, y: 818, w: 86.7, h: 76, first: 13.7, step: 23.5, size: 16,
      swatch: [618, 652], textX: 664,
      items: [
        {type: 'line', color: smColor, width: 2.8, label: 'Z', sub: 'Sm'},
        {type: 'line', color: rfColor, width: 3.6, label: 'Z', sub: 'Rf'},
        {type: 'line', color: chColor, width: 3.2, dash: [11, 6], label: 'Z', sub: 'Ch'}
      ]
    }]
  })
});

new Chart(document.getElementById('panel-d'), {
  type: 'scatter',
  data: {datasets: transectDatasets(dCh, dRf, dSm, dZeising, dBathy, dIce)},
  options: baseOptions({left: 0, right: 8.3, top: 11.3, bottom: 0}, {
    x: axisX(-1, 21.48, 1, transectXLabels, 15.4, 'Across ice shelf-distance (km)', 16, 0, 42.7),
    y: axisY(-1200, 100, transectYLabels, 15.4, 15.5, 9, 72, true)
  }, {
    texts: [
      {x: 1.24, y: 7, text: 'd', size: 34},
      {x: .6, y: -132, text: 'II*', size: 21},
      {x: 20.36, y: -132, text: 'II', size: 21},
      {x: 3.5, y: -440, text: '3', size: 16},
      {x: 10.02, y: -440, text: '2', size: 16},
      {x: 15.4, y: -440, text: '1', size: 16}
    ]
  })
});

// ---- panel e
const eScales = {
  x: axisX(25, 35.15, 1, eSalinityLabels, 15, 'Ambient Practical Salinity (PSU)', 14.3, 2, 42.7),
  y: axisY(-498, 21.5, eYLabels, 14, 14, 8, 66, false),
  top: {
    type: 'linear', position: 'top', min: -1.848, max: 1.41,
    afterFit: fixedX(40.3),
    border: {color: axisColor, width: 1.3},
    grid: {drawOnChartArea: false, tickLength: 4, tickWidth: 1, tickColor: '#d77'},
    ticks: {stepSize: 0.5, includeBounds: false, autoSkip: false, maxRotation: 0, padding: 2, color: '#e02020', font: {size: 14},
      callback: v => eTemperatureLabels.includes(v) ? String(v) : ''},
    title: {display: true, text: 'Ambient Potential Temperature ( °C)', color: '#e02020', font: {size: 14.3}, padding: {top: 3, bottom: 0}}
  }
};

new Chart(document.getElementById('panel-e'), {
  type: 'scatter',
  data: {datasets: [
    line(eTemperature, rfColor, 2.2, {xAxisID: 'top', tension: 0.1}),
    line(eSalinity, '#000', 1.8, {tension: 0.2})
  ]},
  options: baseOptions({left: 0, right: 7, top: 0, bottom: 0}, eScales, {
    texts: [{x: 26.02, y: -14, text: 'e', size: 33}]
  })
});
</script>
</body>
</html>
